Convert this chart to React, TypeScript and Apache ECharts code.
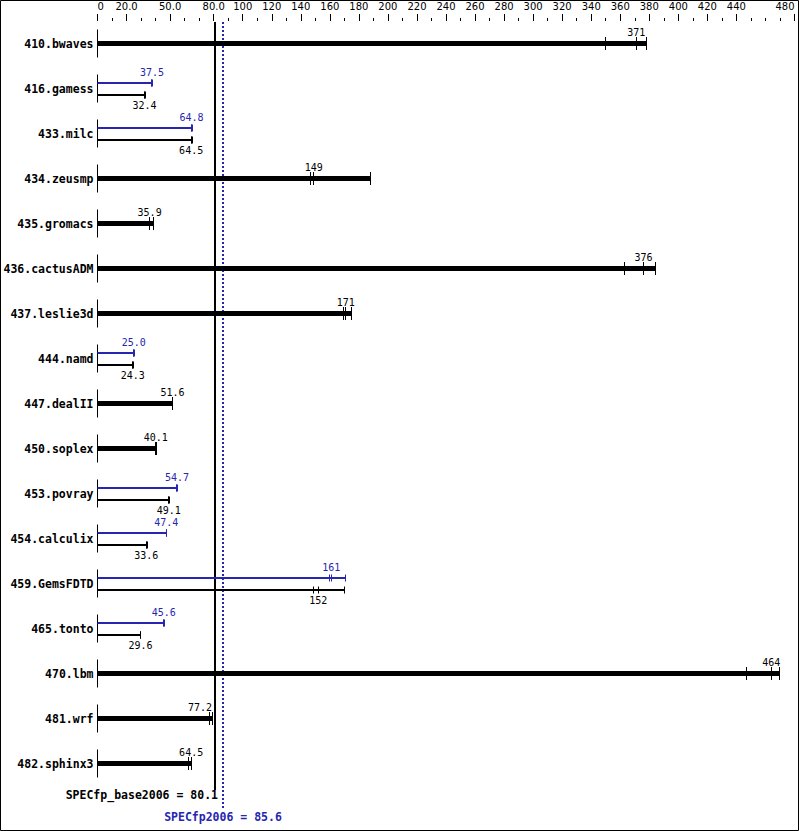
import React, { useEffect, useRef } from 'react';
import * as echarts from 'echarts';

const benchmarks = [
  '410.bwaves', '416.gamess', '433.milc', '434.zeusmp', '435.gromacs', '436.cactusADM',
  '437.leslie3d', '444.namd', '447.dealII', '450.soplex', '453.povray', '454.calculix',
  '459.GemsFDTD', '465.tonto', '470.lbm', '481.wrf', '482.sphinx3',
];
const baseMedian = [371, 32.4, 64.5, 149, 35.9, 376, 171, 24.3, 51.6, 40.1, 49.1, 33.6, 152, 29.6, 464, 77.2, 64.5];
const baseRuns = [
  [350, 371, 378], [32.3, 32.4, 33.0], [64.4, 64.5, 65.2], [147, 149, 188], [35.8, 35.9, 38.5],
  [363, 376, 384], [169.5, 171, 175], [24.2, 24.3, 24.6], [51.5, 51.6, 51.6], [40.0, 40.1, 40.6],
  [49.0, 49.1, 49.4], [33.5, 33.6, 34.4], [149, 152, 170], [29.4, 29.6, 29.7], [447, 464, 470],
  [77.2, 77.2, 79.0], [62.8, 64.5, 64.9],
];
const peakMedian = [null, 37.5, 64.8, null, null, null, null, 25.0, null, null, 54.7, 47.4, 161, 45.6, null, null, null];
const peakRuns = [
  null, [37.4, 37.5, 37.9], [64.6, 64.8, 65.2], null, null, null, null, [24.9, 25.0, 25.3], null, null,
  [54.6, 54.7, 55.0], [47.3, 47.4, 47.6], [160, 161, 171], [45.5, 45.6, 45.8], null, null, null,
];
const tickLabelValues = [0, 20, 50, 80, 100, 120, 140, 160, 180, 200, 220, 240, 260, 280, 300, 320, 340, 360, 380, 400, 420, 440, 480];
const refValues = [80.1, 85.6];
const refLabels = ['SPECfp_base2006 = 80.1', 'SPECfp2006 = 85.6'];

const BLUE = '#2626b0';
const BLACK = '#000000';
const MONO = '"DejaVu Sans Mono", monospace';

function fmt(v: number): string {
  return v >= 100 ? String(Math.round(v)) : v.toFixed(1);
}

export default function App() {
  const ref = useRef<HTMLDivElement>(null);
  useEffect(() => {
    if (!ref.current) return;
    const chart = echarts.init(ref.current, null, { renderer: 'svg' });
    const snap = (x: number) => Math.round(x) + 0.5;

    const benchRender = (params: any, api: any) => {
      const i = params.dataIndex;
      const [x0raw, yc] = api.coord([0, i]);
      const x0 = snap(x0raw - 0.5);
      const refX = Math.round(api.coord([refValues[0], i])[0]) + 1;
      const children: any[] = [];
      children.push({
        type: 'line',
        shape: { x1: x0, y1: yc - 14, x2: x0, y2: yc + 14 },
        style: { stroke: BLACK, lineWidth: 1 },
      });
      const drawBar = (runs: number[], median: number, color: string, y: number, width: number, half: number, labelY: number) => {
        const xmax = api.coord([Math.max(...runs), i])[0];
        children.push({
          type: 'line',
          shape: { x1: x0, y1: y, x2: xmax, y2: y },
          style: { stroke: color, lineWidth: width },
        });
        runs.forEach((r) => {
          const x = snap(api.coord([r, i])[0] - 0.5);
          children.push({
            type: 'line',
            shape: { x1: x, y1: y - half, x2: x, y2: y + half },
            style: { stroke: color, lineWidth: 1 },
          });
        });
        const text = fmt(median);
        let lx = api.coord([median, i])[0];
        let align = 'center';
        const halfW = text.length * 3;
        if (lx < refX && lx + halfW > refX - 2) {
          lx = refX - 3;
          align = 'right';
        }
        children.push({
          type: 'text',
          style: {
            text,
            x: lx,
            y: labelY,
            align,
            verticalAlign: 'middle',
            fill: color,
            fontSize: 10,
            fontFamily: MONO,
          },
        });
      };
      const pk = peakRuns[i];
      const pm = peakMedian[i];
      if (pk && pm !== null) {
        const yb = Math.round(yc - 6);
        const yk = Math.round(yc + 6);
        drawBar(pk, pm as number, BLUE, yb, 2, 3.5, yc - 16);
        drawBar(baseRuns[i], baseMedian[i], BLACK, yk, 2, 3.5, yc + 17);
      } else {
        drawBar(baseRuns[i], baseMedian[i], BLACK, yc, 5, 6.5, yc - 11);
      }
      return { type: 'group', children };
    };

    const refRender = (params: any, api: any) => {
      const i = params.dataIndex;
      const cs = params.coordSys;
      const x = Math.round(api.coord([refValues[i], 0])[0]) + 1;
      const top = cs.y + 1;
      const bottom = cs.y + cs.height;
      const children: any[] = [];
      if (i === 0) {
        children.push({
          type: 'line',
          shape: { x1: x, y1: top, x2: x, y2: bottom + 4 },
          style: { stroke: BLACK, lineWidth: 2 },
        });
        children.push({
          type: 'text',
          style: {
            text: refLabels[i], x: x + 3, y: bottom + 9, align: 'right', verticalAlign: 'middle',
            fill: BLACK, fontSize: 11.5, fontWeight: 'bold', fontFamily: MONO,
          },
        });
      } else {
        children.push({
          type: 'line',
          shape: { x1: x, y1: top, x2: x, y2: bottom + 22 },
          style: { stroke: BLUE, lineWidth: 2, lineDash: [2, 2] },
        });
        children.push({
          type: 'text',
          style: {
            text: refLabels[i], x: x, y: bottom + 31, align: 'center', verticalAlign: 'middle',
            fill: BLUE, fontSize: 11.5, fontWeight: 'bold', fontFamily: MONO,
          },
        });
      }
      return { type: 'group', children };
    };

    chart.setOption({
      animation: false,
      backgroundColor: '#ffffff',
      grid: { left: 97.5, top: 21, width: 697, height: 765 },
      xAxis: [
        {
          type: 'value', position: 'top', min: 0, max: 480, interval: 10, offset: 0,
          axisLine: { show: false },
          axisTick: { show: true, length: 3, lineStyle: { color: BLACK, width: 1 } },
          axisLabel: { show: false },
          splitLine: { show: false },
        },
        {
          type: 'value', position: 'top', min: 0, max: 480, interval: 10, offset: 0,
          axisLine: { show: false },
          axisTick: { show: true, length: 7, customValues: tickLabelValues, lineStyle: { color: BLACK, width: 1 } },
          axisLabel: {
            show: true, customValues: tickLabelValues, margin: 10, hideOverlap: false,
            fontSize: 10, fontFamily: '"DejaVu Sans", sans-serif', color: BLACK,
            alignMinLabel: 'left', alignMaxLabel: 'right',
            formatter: (v: number) => (v === 0 ? '0' : v < 100 ? v.toFixed(1) : String(v)),
          },
          splitLine: { show: false },
        },
      ],
      yAxis: {
        type: 'category', inverse: true, data: benchmarks,
        axisLine: { show: false }, axisTick: { show: false }, splitLine: { show: false },
        axisLabel: { margin: 4, fontSize: 11.5, fontWeight: 'bold', fontFamily: MONO, color: BLACK, interval: 0 },
      },
      graphic: [
        {
          type: 'rect', silent: true, z: 100,
          shape: { x: 0.5, y: 0.5, width: 798, height: 830 },
          style: { fill: 'none', stroke: BLACK, lineWidth: 1 },
        },
      ],
      series: [
        {
          type: 'custom', xAxisIndex: 0, clip: false, z: 1,
          data: refValues.map((v) => [v, 0]),
          encode: { x: 0, y: 1 },
          renderItem: refRender,
        },
        {
          type: 'custom', xAxisIndex: 0, clip: false, z: 2,
          data: benchmarks.map((_, i) => [baseMedian[i], i]),
          encode: { x: 0, y: 1 },
          renderItem: benchRender,
        },
      ],
    });
    return () => chart.dispose();
  }, []);
  return <div ref={ref} style={{ position: 'absolute', left: 0, top: 0, width: 799, height: 831 }} />;
}
